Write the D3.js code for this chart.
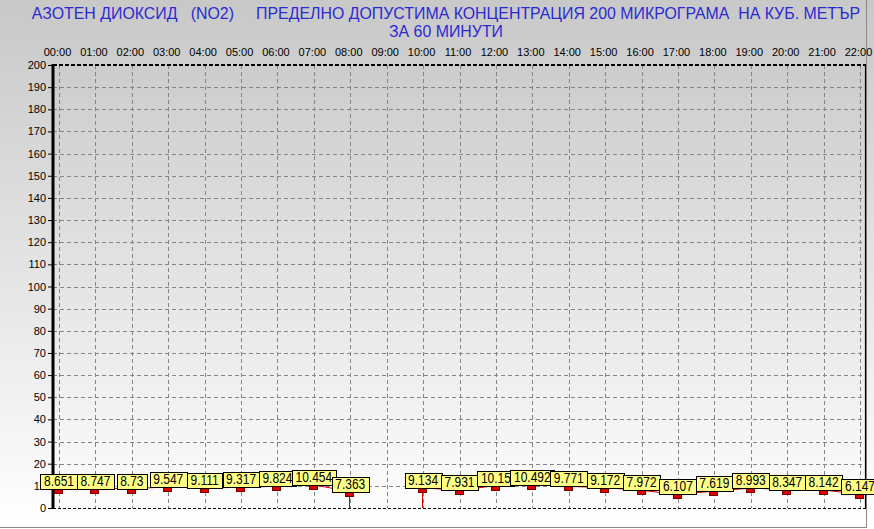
<!DOCTYPE html>
<html><head><meta charset="utf-8">
<script src="https://cdn.jsdelivr.net/npm/d3@7"></script>
<style>body{margin:0;background:#fff;} svg{display:block;} text{font-family:"Liberation Sans",Arial,sans-serif;}</style>
</head><body><svg id="c" width="874" height="529"></svg>
<script>
const hours = ["00:00","01:00","02:00","03:00","04:00","05:00","06:00","07:00","08:00","09:00","10:00","11:00","12:00","13:00","14:00","15:00","16:00","17:00","18:00","19:00","20:00","21:00","22:00"];
const values = [8.651, 8.747, 8.73, 9.547, 9.111, 9.317, 9.824, 10.454, 7.363, null, 9.134, 7.931, 10.15, 10.492, 9.771, 9.172, 7.972, 6.107, 7.619, 8.993, 8.347, 8.142, 6.147];
const yTicks = [0,10,20,30,40,50,60,70,80,90,100,110,120,130,140,150,160,170,180,190,200];
const titleLines = ["АЗОТЕН ДИОКСИД   (NO2)     ПРЕДЕЛНО ДОПУСТИМА КОНЦЕНТРАЦИЯ 200 МИКРОГРАМА  НА КУБ. МЕТЪР", "ЗА 60 МИНУТИ"];

const W = 874, H = 529;
const plot = {l: 53, r: 866, t: 65, b: 508};
const svg = d3.select("#c");

const defs = svg.append("defs");
const g = defs.append("linearGradient").attr("id","bg").attr("x1",0).attr("y1",0).attr("x2",0).attr("y2",1);
g.append("stop").attr("offset","0%").attr("stop-color","#c8c8c8");
g.append("stop").attr("offset","100%").attr("stop-color","#ffffff");
const g2 = defs.append("linearGradient").attr("id","pbg").attr("x1",0).attr("y1",0).attr("x2",0).attr("y2",1);
g2.append("stop").attr("offset","0%").attr("stop-color","#cccccc");
g2.append("stop").attr("offset","100%").attr("stop-color","#fdfdfd");

svg.append("rect").attr("width",W).attr("height",H).attr("fill","url(#bg)");
svg.append("rect").attr("x",plot.l).attr("y",plot.t).attr("width",plot.r-plot.l).attr("height",plot.b-plot.t).attr("fill","url(#pbg)");

// frame
svg.append("line").attr("x1",866.5).attr("x2",866.5).attr("y1",0).attr("y2",527.5).attr("stroke","#8a8a8a").attr("stroke-width",1);
svg.append("line").attr("x1",0).attr("x2",867).attr("y1",527.5).attr("y2",527.5).attr("stroke","#8a8a8a").attr("stroke-width",1);

const x = d3.scalePoint().domain(hours).range([59, 860]);
const y = d3.scaleLinear().domain([0,200]).range([plot.b, plot.t]);

// title
svg.append("g").selectAll("text").data(titleLines).join("text")
  .attr("x",446).attr("y",(d,i)=>19+i*18).attr("text-anchor","middle")
  .attr("font-size",15.9).attr("fill","#2a2ad2").style("white-space","pre").text(d=>d);

// grid
const grid = svg.append("g").attr("stroke","#858585").attr("stroke-width",1).attr("stroke-dasharray","4,3");
grid.selectAll("line.v").data(hours).join("line").attr("class","v")
  .attr("x1",d=>Math.round(x(d))+0.5).attr("x2",d=>Math.round(x(d))+0.5).attr("y1",plot.t).attr("y2",plot.b);
grid.selectAll("line.h").data(yTicks.filter(t=>t>0 && t<200)).join("line").attr("class","h")
  .attr("x1",plot.l).attr("x2",plot.r).attr("y1",d=>Math.round(y(d))+0.5).attr("y2",d=>Math.round(y(d))+0.5);

// x labels top
svg.append("g").selectAll("text").data(hours).join("text")
  .attr("x",d=>x(d)-1.5).attr("y",56).attr("text-anchor","middle").attr("font-size",11).attr("fill","#000").text(d=>d);

// y axis
const yAxis = d3.axisLeft(y).tickValues(yTicks).tickSize(5).tickPadding(2).tickFormat(d3.format("d"));
const ya = svg.append("g").attr("transform",`translate(${plot.l},0)`).call(yAxis);
ya.select(".domain").remove();
ya.selectAll("text").attr("font-size",11).attr("font-family","Liberation Sans, Arial, sans-serif").attr("fill","#000");
ya.selectAll("line").attr("stroke","#000");

// borders
svg.append("line").attr("x1",plot.l).attr("x2",plot.r).attr("y1",plot.t).attr("y2",plot.t).attr("stroke","#000").attr("stroke-width",2).attr("stroke-dasharray","4,2");
svg.append("line").attr("x1",plot.l).attr("x2",plot.r).attr("y1",plot.b+0.5).attr("y2",plot.b+0.5).attr("stroke","#000").attr("stroke-width",1.2).attr("stroke-dasharray","3,2");
svg.append("line").attr("x1",plot.r-0.5).attr("x2",plot.r-0.5).attr("y1",plot.t).attr("y2",plot.b).attr("stroke","#000").attr("stroke-width",1.2);
svg.append("line").attr("x1",plot.l).attr("x2",plot.l).attr("y1",plot.t-1).attr("y2",plot.b+1).attr("stroke","#000").attr("stroke-width",3);

// series
const data = hours.map((h,i)=>({h, v: values[i], i}));
const line = d3.line().defined(d=>d.v!=null).x(d=>x(d.h)).y(d=>y(d.v));
svg.append("path").datum(data).attr("d",line).attr("fill","none").attr("stroke","#d40000").attr("stroke-width",1);
// drop lines next to gaps
const drops = data.filter(d=>d.v!=null && ((d.i>0 && values[d.i-1]==null) || (d.i<values.length-1 && values[d.i+1]==null)));
svg.append("g").selectAll("line").data(drops).join("line")
  .attr("x1",d=>Math.round(x(d.h))-0.5).attr("x2",d=>Math.round(x(d.h))-0.5).attr("y1",d=>y(d.v)).attr("y2",plot.b)
  .attr("stroke","#d40000").attr("stroke-width",1);

const valid = data.filter(d=>d.v!=null);
svg.append("g").selectAll("rect").data(valid).join("rect")
  .attr("x",d=>Math.round(x(d.h))-4.5).attr("y",d=>Math.round(y(d.v))+0.5).attr("width",8).attr("height",4)
  .attr("fill","#dd0000").attr("stroke","#7a0000").attr("stroke-width",1);

// labels
const lg = svg.append("g");
valid.forEach(d=>{
  const gg = lg.append("g");
  const r = gg.append("rect");
  const t = gg.append("text").attr("font-size",12).attr("fill","#000").attr("text-anchor","middle").text(d.v.toString());
  const w = t.node().getComputedTextLength() + 7;
  const cx = x(d.h);
  const bottom = Math.round(y(d.v));
  r.attr("x",Math.round(cx - w/2)+0.5).attr("y",bottom-15+0.5).attr("width",Math.round(w)).attr("height",15)
   .attr("fill","#ffff88").attr("stroke","#000").attr("stroke-width",1);
  t.attr("transform",`translate(${cx},${bottom-3}) scale(1,1.15)`);
});
</script></body></html>
